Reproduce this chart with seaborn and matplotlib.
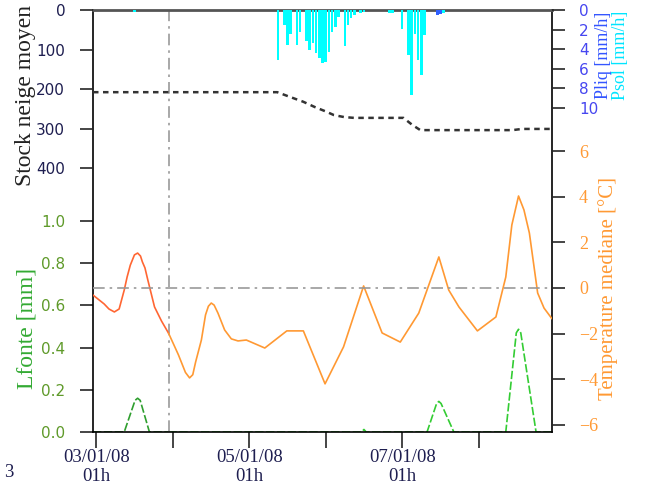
import numpy as np
import pandas as pd
import matplotlib
matplotlib.use("Agg")
import matplotlib.pyplot as plt
import seaborn as sns

# heures comptees depuis le 03/01/08 01h
t_prevision = 22.7

h_temp = [-1, 2.5, 4.0, 5.7, 7.2, 8.8, 9.7, 10.7, 12.0, 13.0, 13.9, 14.5, 15.3, 16.2, 18.3,
          20.5, 22.7, 25.8, 28.0, 29.3, 30.3, 31.2, 33.0, 34.3, 35.2, 36.1, 37.0, 38.2, 40.3,
          42.4, 44.5, 47.1, 52.9, 59.8, 65.0, 71.8, 77.6, 83.9, 89.7, 95.4, 101.2, 107.5,
          110.6, 113.8, 119.6, 125.4, 128.5, 130.4, 132.5, 134.2, 135.9, 138.5, 140.5, 143]
temp = [-0.31, -0.70, -0.92, -1.05, -0.92, -0.09, 0.48, 1.0, 1.45, 1.53, 1.40, 1.14, 0.88,
        0.35, -0.83, -1.45, -1.98, -2.93, -3.70, -3.94, -3.80, -3.24, -2.28, -1.18, -0.80,
        -0.66, -0.75, -1.10, -1.84, -2.23, -2.32, -2.28, -2.63, -1.88, -1.88, -4.20, -2.58,
        0.09, -1.97, -2.37, -1.10, 1.36, -0.09, -0.83, -1.88, -1.27, 0.48, 2.76, 4.03, 3.42,
        2.41, -0.22, -0.88, -1.35]

h_fonte = [-1, 8.8, 12.2, 13.0, 13.8, 16.7, 22.7, 83.3, 84.0, 84.7, 103.8, 106.8, 107.5,
           108.2, 112.2, 128.5, 131.8, 132.5, 133.2, 138.0, 143]
fonte = [0, 0, 0.15, 0.16, 0.15, 0, 0, 0, 0.012, 0, 0, 0.135, 0.145, 0.135, 0, 0, 0.47,
         0.487, 0.47, 0, 0]

h_stock = [-1, 56.8, 60.8, 64.9, 68.7, 71.8, 74.6, 77.8, 80.9, 96.4, 99.2, 101.7, 130.6, 133.6, 143]
stock = [208, 208, 220, 232, 246, 256, 266, 271, 273, 273, 291, 304, 304, 301, 301]

h_psol = [12, 57, 59, 60, 61, 63, 64, 66, 67, 68, 69, 70, 71, 72, 73, 74, 75, 76, 78, 79, 80,
          81, 83, 84, 92, 93, 96, 98, 99, 100, 101, 102, 103, 109]
psol = [0.2, 5.1, 1.5, 3.6, 2.4, 3.6, 2.2, 3.2, 4.1, 3.4, 4.4, 4.9, 5.4, 5.3, 4.3, 2.2, 1.7,
        0.7, 3.7, 1.5, 0.85, 0.5, 0.3, 0.2, 0.3, 0.3, 1.9, 4.6, 8.7, 2.4, 5.1, 6.6, 2.5, 0.3]
h_pliq = [107, 108]
pliq = [0.5, 0.4]

x_ticks = [0, 24, 48, 72, 96, 120]
x_labels = ["03/01/08\n01h", "", "05/01/08\n01h", "", "07/01/08\n01h", ""]

sns.set_style("ticks")
plt.rcParams['font.family'] = ['DejaVu Sans']

navy = '#1e1e50'
c_temp_obs, c_temp_prev = '#ff6633', '#ff9933'
c_fonte_obs, c_fonte_prev = '#2f9f2f', '#33cc33'

W, H = 647, 486
fig = plt.figure(figsize=(W / 100, H / 100), dpi=100)
ax = fig.add_axes([93 / W, 1 - 432 / H, (552 - 93) / W, 422 / H])
ax_t = ax.twinx()
ax_s = ax.twinx()
ax_p = ax.twinx()
ax_s.yaxis.tick_left()

for a in (ax_t, ax_s, ax_p):
    for sp in a.spines.values():
        sp.set_visible(False)
for side in ('left', 'right', 'bottom'):
    ax.spines[side].set_color('black')
    ax.spines[side].set_linewidth(1.2)
    ax.spines[side].set_visible(True)
ax.spines['top'].set_visible(True)
ax.spines['top'].set_color('#555555')
ax.spines['top'].set_linewidth(2)

ax.set_xlim(-1, 143)

# Lfonte (axe principal)
df_f = pd.DataFrame({'h': h_fonte, 'v': fonte})
sns.lineplot(data=df_f[df_f.h <= t_prevision], x='h', y='v', ax=ax, color=c_fonte_obs,
             linewidth=1.2, linestyle=(0, (5, 1.5)), estimator=None, sort=False)
sns.lineplot(data=df_f[df_f.h >= t_prevision], x='h', y='v', ax=ax, color=c_fonte_prev,
             linewidth=1.2, linestyle=(0, (5, 1.5)), estimator=None, sort=False)
ax.set_ylim(0, 2.0)
ax.set_yticks([0, 0.2, 0.4, 0.6, 0.8, 1.0])
ax.set_yticklabels([f"{v:.1f}" for v in [0, 0.2, 0.4, 0.6, 0.8, 1.0]])
ax.axvline(t_prevision, color='#999999', linewidth=1.2, linestyle=(0, (7, 3, 1.5, 3)))

# Temperature
df_t = pd.DataFrame({'h': h_temp, 'v': temp})
sns.lineplot(data=df_t[df_t.h <= t_prevision], x='h', y='v', ax=ax_t, color=c_temp_obs,
             linewidth=1.2, estimator=None, sort=False)
sns.lineplot(data=df_t[df_t.h >= t_prevision], x='h', y='v', ax=ax_t, color=c_temp_prev,
             linewidth=1.2, estimator=None, sort=False)
ax_t.axhline(0, color='#999999', linewidth=1.2, linestyle=(0, (7, 3, 1.5, 3)))
ax_t.set_ylim(-6.31, 12.18)
ax_t.set_yticks([-6, -4, -2, 0, 2, 4, 6])

# Stock de neige
sns.lineplot(x=h_stock, y=stock, ax=ax_s, color='#333333', linewidth=1.8,
             linestyle=(0, (2.2, 1.8)), estimator=None, sort=False)
ax_s.set_ylim(1068, 0)
ax_s.set_yticks([0, 100, 200, 300, 400])

# Precipitations
ax_p.bar(h_psol, psol, width=0.8, color='#00ffff', linewidth=0)
ax_p.bar(h_pliq, pliq, width=0.8, color='#3060ff', linewidth=0)
ax_p.set_ylim(43.06, 0)
ax_p.set_yticks([0, 2, 4, 6, 8, 10])

for a in (ax, ax_t, ax_s, ax_p):
    a.set_xlabel('')
    a.set_ylabel('')

ax.set_xticks(x_ticks)
ax.set_xticklabels(x_labels)
ax.tick_params(axis='x', direction='out', length=11.5, width=1.2, pad=0.5, labelcolor=navy,
               labelsize=13.5)
for lab in ax.get_xticklabels():
    lab.set_fontfamily('Liberation Serif')
    lab.set_linespacing(1.15)

ax.tick_params(axis='y', direction='out', length=9.5, width=1.2, pad=10.5,
               labelcolor='#5f9a2a', labelsize=11)
ax_s.tick_params(axis='y', direction='out', length=9.5, width=1.2, pad=10.5,
                 labelcolor=navy, labelsize=11)
ax_p.tick_params(axis='y', direction='out', length=9.5, width=1.2, pad=10,
                 labelcolor='#4646f0', labelsize=11)
ax_t.tick_params(axis='y', direction='out', length=9.5, width=1.2, pad=10,
                 labelcolor=c_temp_prev, labelsize=13)
for lab in ax_t.get_yticklabels():
    lab.set_fontfamily('Liberation Serif')

serif = 'Liberation Serif'
fig.text(26 / W, 1 - 95 / H, "Stock neige moyen", rotation=90, ha='center', va='center',
         fontsize=17, family=serif, color='#222222')
fig.text(27 / W, 1 - 328 / H, "Lfonte [mm]", rotation=90, ha='center', va='center',
         fontsize=17, family=serif, color='#33aa33')
fig.text(608 / W, 1 - 289 / H, "Temperature mediane [°C]", rotation=90, ha='center',
         va='center', fontsize=15, family=serif, color=c_temp_prev)
fig.text(604 / W, 1 - 55 / H, "Pliq [mm/h]", rotation=90, ha='center', va='center',
         fontsize=13, family=serif, color='#3355ff')
fig.text(621 / W, 1 - 55 / H, "Psol [mm/h]", rotation=90, ha='center', va='center',
         fontsize=13, family=serif, color='#00e5ff')
fig.text(9 / W, 1 - 472 / H, "3", ha='center', va='center', fontsize=13.5, family=serif,
         color=navy)

fig.savefig('out.png', dpi=100)
